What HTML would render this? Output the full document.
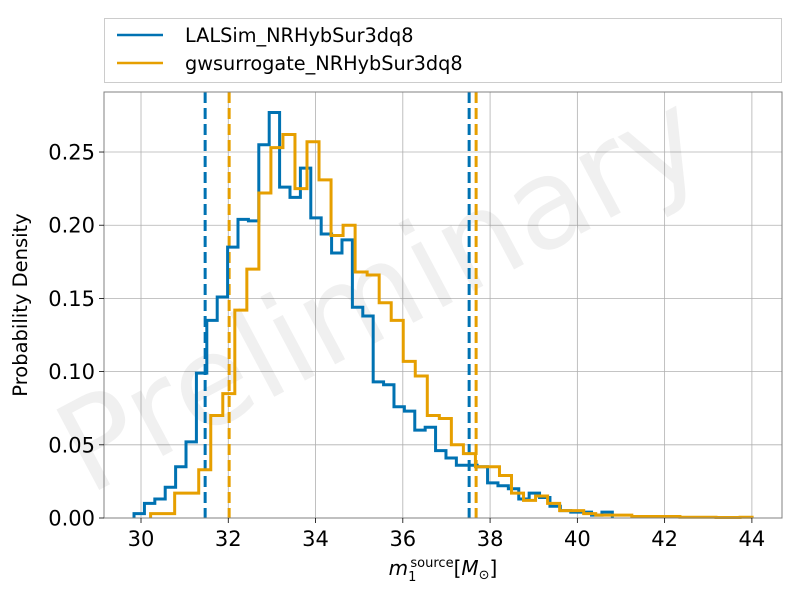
<!DOCTYPE html>
<html><head><meta charset="utf-8"><style>
html,body{margin:0;padding:0;background:#fff;}
svg{display:block;}
text{font-family:"DejaVu Sans","Liberation Sans",sans-serif;}
</style></head><body>
<svg id="chart" width="800" height="600" xmlns="http://www.w3.org/2000/svg">
  <g id="grid"></g>
  <text x="400" y="330" transform="rotate(-28 400 330)" text-anchor="middle" font-size="125" fill="#000" fill-opacity="0.06">Preliminary</text>
  <g id="marks"></g>
  <rect x="104" y="92" width="678" height="426" fill="none" stroke="#808080" stroke-width="1"/>
  <g id="xticks"></g>
  <g id="yticks"></g>
  <text x="27" y="305" transform="rotate(-90 27 305)" text-anchor="middle" font-size="19.5" fill="#000">Probability Density</text>
  <text x="443" y="575" text-anchor="middle" font-family="Liberation Serif,serif" font-size="20" fill="#000"><tspan font-style="italic">m</tspan><tspan font-size="13" dy="6">1</tspan><tspan font-size="13" dy="-14" dx="-6">source</tspan><tspan dy="8">[</tspan><tspan font-style="italic">M</tspan><tspan font-size="13" dy="4">⊙</tspan><tspan dy="-4">]</tspan></text>
  <g>
    <rect x="104.5" y="18.5" width="677" height="64" fill="#fff" stroke="#ccc" stroke-width="1"/>
    <line x1="117" y1="35" x2="163" y2="35" stroke="#0072b2" stroke-width="2.5"/>
    <text x="185" y="42" font-size="19.3" fill="#000">LALSim_NRHybSur3dq8</text>
    <line x1="117" y1="63" x2="163" y2="63" stroke="#e69f00" stroke-width="2.5"/>
    <text x="185" y="70" font-size="19.3" fill="#000">gwsurrogate_NRHybSur3dq8</text>
  </g>
</svg>
<script>
const blueStart = 29.84;
const blueWidth = 0.2383;
const blueValues = [0.003,0.010,0.013,0.021,0.035,0.052,0.099,0.135,0.151,0.185,0.204,0.203,0.255,0.277,0.226,0.219,0.239,0.205,0.194,0.181,0.190,0.144,0.138,
  0.093,0.091,0.076,0.073,0.060,0.062,0.046,0.041,0.036,0.036,0.035,0.024,0.022,0.020,0.013,0.017,0.014,0.008,0.005,0.004,0.004,0.002,0.004];
const orangeStart = 30.22;
const orangeWidth = 0.2757;
const orangeValues = [0.003,0.003,0.017,0.017,0.033,0.070,0.085,0.142,0.170,0.222,0.253,0.262,0.225,0.257,0.231,0.193,0.200,0.168,0.166,0.147,0.135,0.107,0.097,0.070,0.068,0.050,0.044,0.035,0.035,0.029,0.017,0.012,0.015,0.010,0.005,0.005,0.003,0.002,0.002,0.002,0.001,0.001,0.001,0.001,0.0005,0.0005,0.0005,0.0003,0.0003,0.0005];
const blueIntervals = [31.47, 37.52];
const orangeIntervals = [32.02, 37.68];
const xTicks = [30,32,34,36,38,40,42,44];
const yTicks = [0,0.05,0.10,0.15,0.20,0.25];

const X0=104,X1=782,Y0=518,Y1=92;
const xMin=29.152,xMax=44.69,yMin=0,yMax=0.291;
const NS="http://www.w3.org/2000/svg";
function xs(v){return X0+(v-xMin)/(xMax-xMin)*(X1-X0);}
function ys(v){return Y0-(v-yMin)/(yMax-yMin)*(Y0-Y1);}
function mk(tag,attrs,parent){const e=document.createElementNS(NS,tag);for(const k in attrs)e.setAttribute(k,attrs[k]);parent.appendChild(e);return e;}
const grid=document.getElementById('grid'),marks=document.getElementById('marks'),xt=document.getElementById('xticks'),yt=document.getElementById('yticks');
xTicks.forEach(t=>{
  const g=mk('line',{x1:xs(t),x2:xs(t),y1:Y1,y2:Y0,stroke:'#b0b0b0','stroke-width':0.8},grid);
  
  
  const tk=mk('line',{x1:xs(t),x2:xs(t),y1:Y0,y2:Y0+5,stroke:'#000','stroke-width':0.8},xt);
  
  
  const l=mk('text',{x:xs(t),y:Y0+28,'text-anchor':'middle','font-size':21,fill:'#000'},xt);
  
  
  l.textContent=t;
});
yTicks.forEach(t=>{
  const g=mk('line',{x1:X0,x2:X1,y1:ys(t),y2:ys(t),stroke:'#b0b0b0','stroke-width':0.8},grid);
  
  
  const tk=mk('line',{x1:X0-5,x2:X0,y1:ys(t),y2:ys(t),stroke:'#000','stroke-width':0.8},yt);
  
  
  const l=mk('text',{x:X0-9,y:ys(t)+7.5,'text-anchor':'end','font-size':21,fill:'#000'},yt);
  
  
  l.textContent=t.toFixed(2);
});
function step(start,w,vals,color,name){
  let d='M'+xs(start)+','+ys(0);
  vals.forEach((v,i)=>{d+=' L'+xs(start+i*w)+','+ys(v)+' L'+xs(start+(i+1)*w)+','+ys(v);});
  d+=' L'+xs(start+vals.length*w)+','+ys(0);
  const p=mk('path',{d:d,fill:'none',stroke:color,'stroke-width':3,'stroke-linejoin':'miter'},marks);
  
  
}
function vlines(vals,color,name){
  vals.forEach(v=>{
    const l=mk('line',{x1:xs(v),x2:xs(v),y1:Y1,y2:Y0,stroke:color,'stroke-width':3,'stroke-dasharray':'11,5'},marks);
    
    
  });
}
vlines(blueIntervals,'#0072b2','lalsim-interval-line');
vlines(orangeIntervals,'#e69f00','gwsurrogate-interval-line');
step(blueStart,blueWidth,blueValues,'#0072b2','lalsim-histogram');
step(orangeStart,orangeWidth,orangeValues,'#e69f00','gwsurrogate-histogram');
</script>
</body></html>
